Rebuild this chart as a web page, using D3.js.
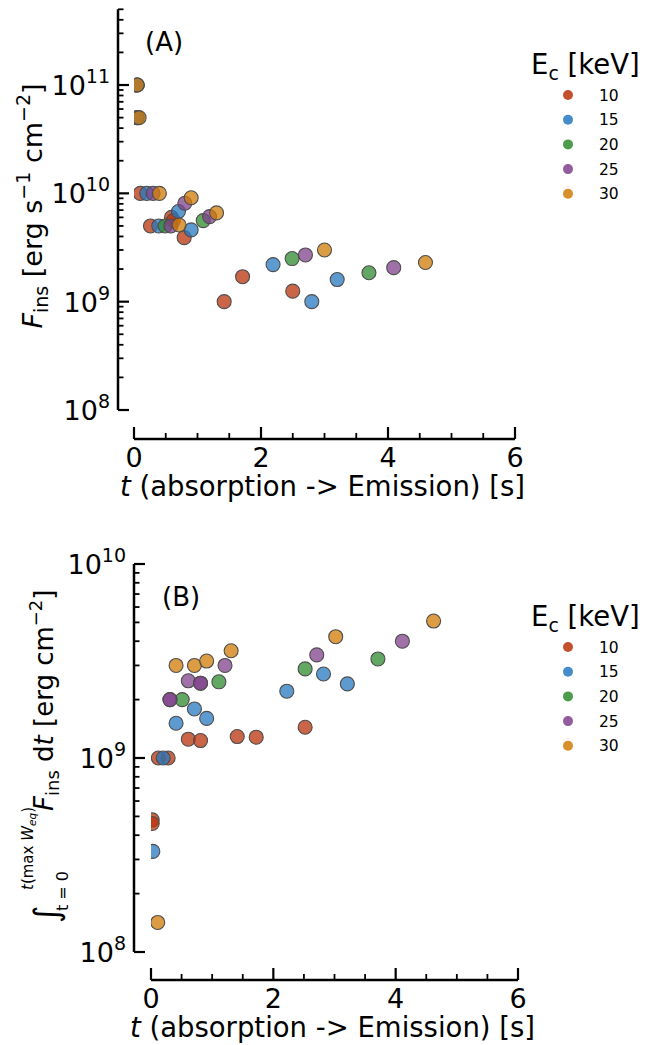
<!DOCTYPE html>
<html>
<head>
<meta charset="utf-8">
<script src="https://cdn.jsdelivr.net/npm/d3@7"></script>
<style>
body { margin: 0; background: #fff; }
svg text { font-family: "DejaVu Sans", sans-serif; fill: #000; }
</style>
</head>
<body>
<div id="chart"></div>
<script>
(function () {

// legend categories (cutoff energy E_c in keV) and their colours
var ecLabels = ["10", "15", "20", "25", "30"];
var ecColors = ["#b9320a", "#2678c0", "#2e8b2e", "#80408b", "#d07b06"];

// panel A : [t (s), F_ins (erg s^-1 cm^-2)]
var fluxA10 = [[0.05, 1e11], [0.05, 5e10], [0.1, 1e10], [0.26, 5e9], [0.59, 6.0e9], [0.62, 5.6e9],
               [0.79, 3.9e9], [1.42, 1.0e9], [1.71, 1.7e9], [2.5, 1.25e9]];
var fluxA15 = [[0.05, 1e11], [0.05, 5e10], [0.2, 1e10], [0.39, 5e9], [0.7, 6.8e9], [0.9, 4.6e9],
               [2.19, 2.2e9], [2.8, 1.0e9], [3.2, 1.6e9]];
var fluxA20 = [[0.49, 5e9], [1.09, 5.6e9], [2.49, 2.5e9], [3.7, 1.85e9]];
var fluxA25 = [[0.3, 1e10], [0.58, 5e9], [0.8, 8.1e9], [1.19, 6.1e9], [2.7, 2.7e9], [4.09, 2.06e9]];
var fluxA30 = [[0.05, 1e11], [0.08, 5e10], [0.4, 1e10], [0.71, 5.1e9], [0.9, 9.1e9], [1.3, 6.6e9],
               [3.0, 3.0e9], [4.59, 2.3e9]];

// panel B : [t (s), integrated F_ins (erg cm^-2)]
var fluenceB10 = [[0.02, 4.8e8], [0.02, 4.6e8], [0.12, 1e9], [0.28, 1e9], [0.61, 1.25e9], [0.81, 1.23e9],
                  [1.41, 1.29e9], [1.72, 1.28e9], [2.52, 1.44e9]];
var fluenceB15 = [[0.03, 3.3e8], [0.2, 1e9], [0.41, 1.51e9], [0.71, 1.79e9], [0.91, 1.6e9],
                  [2.22, 2.21e9], [2.82, 2.71e9], [3.21, 2.41e9]];
var fluenceB20 = [[0.51, 2.0e9], [1.11, 2.47e9], [2.52, 2.88e9], [3.71, 3.24e9]];
var fluenceB25 = [[0.31, 2.0e9], [0.31, 2.0e9], [0.61, 2.5e9], [0.81, 2.43e9], [0.81, 2.43e9],
                  [1.21, 3.0e9], [2.71, 3.4e9], [4.11, 4.0e9]];
var fluenceB30 = [[0.11, 1.42e8], [0.41, 3.0e9], [0.71, 3.0e9], [0.91, 3.16e9], [1.31, 3.57e9],
                  [3.02, 4.22e9], [4.62, 5.08e9]];

var xTicks = [0, 2, 4, 6];
var xMinorStep = 0.5;
var yDomainA = [1e8, 5e11];
var yDomainB = [1e8, 1e10];

var svg = d3.select("#chart").append("svg")
    .attr("width", 671)
    .attr("height", 1045);

function drawPanel(p) {
  var g = svg.append("g");

  var x = d3.scaleLinear().domain([0, 6]).range([p.x0, p.x1]);
  var y = d3.scaleLog().domain(p.yDomain).range([p.yBottom, p.yTop]);

  // clip the markers to the axes area (points at t~0 get cut in half)
  g.append("clipPath").attr("id", p.id + "clip")
    .append("rect")
      .attr("x", p.x0).attr("y", 0)
      .attr("width", p.x1 - p.x0 + 20).attr("height", p.xAxisY);

  // y spine (offset to the left) with inward ticks
  g.append("line")
    .attr("x1", p.spineX).attr("x2", p.spineX)
    .attr("y1", y(p.yDomain[1])).attr("y2", y(p.yDomain[0]))
    .style("stroke", "#000").style("stroke-width", 2.5);

  y.ticks().forEach(function (v) {
    var major = Math.abs(Math.log10(v) - Math.round(Math.log10(v))) < 1e-9;
    g.append("line")
      .attr("x1", p.spineX).attr("x2", p.spineX + (major ? 11 : 5.5))
      .attr("y1", y(v)).attr("y2", y(v))
      .style("stroke", "#000").style("stroke-width", major ? 2.2 : 1.8);
    if (major) {
      var t = g.append("text")
        .attr("x", p.spineX - 8)
        .attr("y", y(v) + 10)
        .attr("text-anchor", "end")
        .style("font-size", "27px");
      t.append("tspan").text("10");
      t.append("tspan").attr("dy", -12).style("font-size", "19px").text(Math.round(Math.log10(v)));
    }
  });

  // x spine (offset below) with inward ticks
  g.append("line")
    .attr("x1", x(0)).attr("x2", x(6))
    .attr("y1", p.xAxisY).attr("y2", p.xAxisY)
    .style("stroke", "#000").style("stroke-width", 2.5);

  d3.range(0, 6 + 1e-9, xMinorStep).forEach(function (v) {
    var major = xTicks.indexOf(v) >= 0;
    g.append("line")
      .attr("x1", x(v)).attr("x2", x(v))
      .attr("y1", p.xAxisY).attr("y2", p.xAxisY - (major ? 12 : 6))
      .style("stroke", "#000").style("stroke-width", major ? 2.2 : 1.8);
  });

  g.selectAll(".xlab").data(xTicks).enter().append("text")
    .attr("x", function (d) { return x(d); })
    .attr("y", p.xAxisY + 28)
    .attr("text-anchor", "middle")
    .style("font-size", "27px")
    .text(function (d) { return d; });

  // x axis title
  var xt = g.append("text")
    .attr("x", (x(0) + x(6)) / 2 - 2)
    .attr("y", p.xAxisY + 57)
    .attr("text-anchor", "middle")
    .style("font-size", "27.5px");
  xt.append("tspan").style("font-style", "italic").text("t");
  xt.append("tspan").text(" (absorption -> Emission) [s]");

  // scatter points, one layer per E_c
  var pts = g.append("g").attr("clip-path", "url(#" + p.id + "clip)");
  p.series.forEach(function (s, i) {
    pts.selectAll(".pt" + i).data(s).enter().append("circle")
      .attr("cx", function (d) { return x(d[0]); })
      .attr("cy", function (d) { return y(d[1]); })
      .attr("r", 7)
      .style("fill", ecColors[i])
      .style("fill-opacity", 0.75)
      .style("stroke", "#4d4d4d")
      .style("stroke-width", 1.1);
  });

  // panel label
  g.append("text")
    .attr("x", p.labelX).attr("y", p.labelY)
    .style("font-size", "26px")
    .text(p.label);

  // legend
  var lt = g.append("text")
    .attr("x", 531).attr("y", p.legendY)
    .style("font-size", "27.5px");
  lt.append("tspan").text("E");
  lt.append("tspan").attr("dy", 6).style("font-size", "19px").text("c");
  lt.append("tspan").attr("dy", -6).text(" [keV]");

  ecLabels.forEach(function (lab, i) {
    var cy = p.legendY + 21 + i * 24.7;
    g.append("circle")
      .attr("cx", 568).attr("cy", cy).attr("r", 5)
      .style("fill", ecColors[i]).style("fill-opacity", 0.85);
    g.append("text")
      .attr("x", 599).attr("y", cy + 5.5)
      .style("font-size", "15.5px")
      .text(lab);
  });

  return g;
}

var gA = drawPanel({
  id: "A", label: "(A)", labelX: 145, labelY: 51,
  x0: 134, x1: 515, xAxisY: 439, spineX: 118,
  yDomain: yDomainA, yBottom: 410, yTop: 9.3,
  legendY: 74,
  series: [fluxA10, fluxA15, fluxA20, fluxA25, fluxA30]
});

var gB = drawPanel({
  id: "B", label: "(B)", labelX: 162, labelY: 606,
  x0: 151, x1: 518, xAxisY: 980, spineX: 134,
  yDomain: yDomainB, yBottom: 952, yTop: 564,
  legendY: 626,
  series: [fluenceB10, fluenceB15, fluenceB20, fluenceB25, fluenceB30]
});

// y label A : F_ins [erg s^-1 cm^-2]
var ya = gA.append("text")
  .attr("transform", "translate(42,206) rotate(-90)")
  .attr("text-anchor", "middle")
  .style("font-size", "27px");
ya.append("tspan").style("font-style", "italic").text("F");
ya.append("tspan").attr("dy", 6).style("font-size", "19px").text("ins");
ya.append("tspan").attr("dy", -6).text(" [erg s");
ya.append("tspan").attr("dy", -12).style("font-size", "19px").text("\u22121");
ya.append("tspan").attr("dy", 12).text(" cm");
ya.append("tspan").attr("dy", -12).style("font-size", "19px").text("\u22122");
ya.append("tspan").attr("dy", 12).text("]");

// y label B : integral from t=0 to t(max W_eq) of F_ins dt [erg cm^-2]
var yb = gB.append("g").attr("transform", "translate(53,923) rotate(-90)");
yb.append("text").attr("x", 0).attr("y", 5).style("font-size", "34px").text("\u222B");
yb.append("text").attr("x", 12).attr("y", 15).style("font-size", "16px").text("t = 0");
var sup = yb.append("text").attr("x", 33).attr("y", -20).style("font-size", "15px");
sup.append("tspan").style("font-style", "italic").text("t");
sup.append("tspan").text("(max ");
sup.append("tspan").style("font-style", "italic").text("W");
sup.append("tspan").attr("dy", 3).style("font-size", "10.5px").style("font-style", "italic").text("eq");
sup.append("tspan").attr("dy", -3).text(")");
var main = yb.append("text").attr("x", 112).attr("y", 0).style("font-size", "26px");
main.append("tspan").style("font-style", "italic").text("F");
main.append("tspan").attr("dy", 6).style("font-size", "18px").text("ins");
main.append("tspan").attr("dy", -6).text(" d");
main.append("tspan").style("font-style", "italic").text("t");
main.append("tspan").text(" [erg cm");
main.append("tspan").attr("dy", -11).style("font-size", "18px").text("\u22122");
main.append("tspan").attr("dy", 11).text("]");

})();
</script>
</body>
</html>
